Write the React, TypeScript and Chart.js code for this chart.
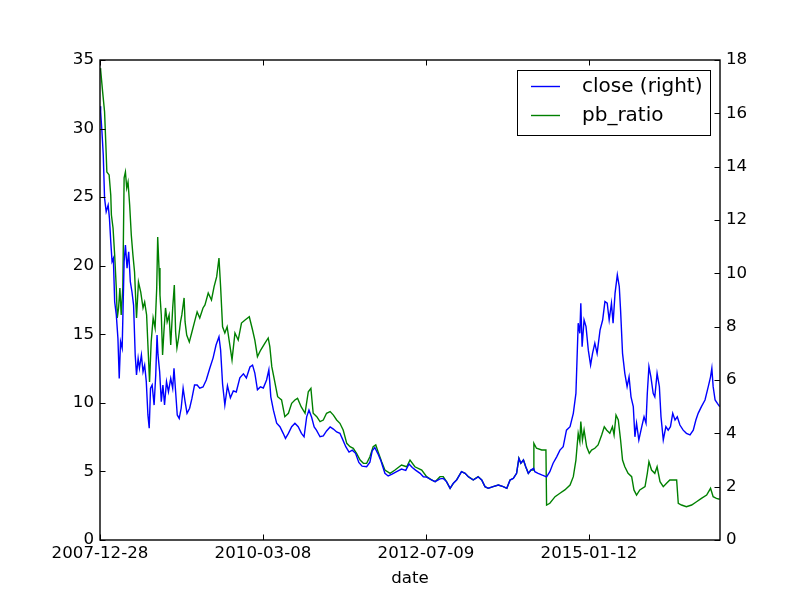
import { useEffect, useRef } from 'react';
import { Chart, registerables } from 'chart.js';

Chart.register(...registerables);

const FONT = 'DejaVu Sans';

// x positions are trading-day indices from 2007-12-28
const tickDays = [0, 500, 1000, 1500];
const tickLabels = ['2007-12-28', '2010-03-08', '2012-07-09', '2015-01-12'];
const lastDay = 1902;

const leftTicks = [0, 5, 10, 15, 20, 25, 30, 35];
const rightTicks = [0, 2, 4, 6, 8, 10, 12, 14, 16, 18];

const pbDays = [
  0, 2, 8, 14, 18, 21, 28, 33, 35, 40,
  45, 50, 53, 57, 61, 65, 70, 74, 78, 82,
  86, 91, 96, 101, 106, 112, 118, 125, 132, 137,
  143, 147, 152, 157, 163, 169, 174, 177, 181, 184,
  188, 192, 196, 201, 206, 212, 217, 223, 228, 232,
  236, 241, 247, 251, 258, 261, 266, 274, 282, 290,
  298, 306, 316, 322, 332, 342, 350, 358, 365, 370,
  376, 383, 390, 399, 405, 414, 424, 434, 445, 458,
  468, 475, 483, 493, 506, 516, 521, 527, 535, 545,
  557, 567, 578, 588, 598, 606, 617, 629, 639, 647,
  654, 665, 675, 685, 695, 706, 716, 726, 736, 746,
  757, 767, 777, 787, 798, 808, 818, 828, 838, 846,
  853, 864, 874, 890, 905, 925, 941, 951, 966, 987,
  1002, 1017, 1028, 1043, 1053, 1063, 1074, 1084, 1094, 1109,
  1120, 1130, 1145, 1160, 1171, 1181, 1191, 1206, 1222, 1237,
  1248, 1258, 1268, 1278, 1285, 1291, 1299, 1306, 1314, 1322,
  1329, 1331, 1339, 1355, 1368, 1370, 1380, 1396, 1411, 1426,
  1442, 1452, 1460, 1467, 1472, 1475, 1480, 1485, 1493, 1501,
  1508, 1518, 1528, 1539, 1547, 1554, 1564, 1572, 1577, 1583,
  1590, 1597, 1603, 1610, 1620, 1631, 1638, 1646, 1656, 1672,
  1679, 1684, 1692, 1702, 1709, 1718, 1728, 1738, 1748, 1758,
  1769, 1774, 1784, 1799, 1815, 1830, 1845, 1861, 1873, 1881,
  1891, 1901,
];

const pbRatio = [
  34.4, 34.27, 32.69, 31.23, 28.8, 26.83, 26.62, 25.16, 23.7, 22.75,
  20.78, 18.38, 16.19, 16.92, 18.38, 16.41, 18.38, 26.4, 26.83, 25.67,
  26.1, 24.43, 22.24, 20.78, 19.54, 16.19, 18.81, 18.08, 16.92, 17.35,
  16.41, 14.22, 11.52, 14.44, 16.19, 15.46, 18.38, 22.09, 19.83, 17.86,
  16.41, 13.49, 15.17, 16.92, 15.9, 16.41, 14.22, 16.92, 18.59, 15.17,
  14.0, 14.73, 15.9, 16.41, 17.65, 15.9, 14.95, 14.44, 15.17, 15.9,
  16.63, 16.19, 16.92, 17.14, 18.01, 17.5, 18.47, 19.2, 20.56, 18.47,
  15.55, 15.09, 15.55, 14.1, 13.13, 15.09, 14.58, 15.82, 16.04, 16.28,
  15.31, 14.58, 13.37, 13.85, 14.36, 14.73, 14.1, 12.64, 11.67, 10.45,
  10.21, 8.99, 9.24, 9.97, 10.21, 10.33, 9.72, 9.24, 10.81, 11.06,
  9.24, 8.99, 8.63, 8.75, 9.24, 9.36, 9.11, 8.75, 8.51, 8.02,
  7.05, 6.8, 6.69, 6.32, 5.83, 5.59, 5.59, 6.07, 6.8, 6.93,
  6.44, 5.71, 5.1, 4.86, 5.1, 5.47, 5.34, 5.83, 5.34, 5.1,
  4.62, 4.38, 4.25, 4.62, 4.62, 4.25, 3.77, 4.13, 4.38, 4.98,
  4.86, 4.62, 4.38, 4.62, 4.38, 3.89, 3.77, 3.89, 4.01, 3.89,
  3.77, 4.38, 4.5, 4.86, 5.96, 5.59, 5.83, 5.34, 4.86, 5.1,
  5.1, 7.05, 6.69, 6.56, 6.56, 2.55, 2.68, 3.16, 3.41, 3.65,
  4.01, 4.62, 5.83, 7.78, 7.17, 8.63, 7.29, 8.02, 6.8, 6.32,
  6.56, 6.69, 6.93, 7.66, 8.26, 8.02, 7.78, 8.26, 7.66, 9.11,
  8.75, 7.29, 5.83, 5.34, 4.86, 4.62, 3.65, 3.28, 3.65, 3.89,
  4.86, 5.71, 5.1, 4.86, 5.34, 4.25, 3.89, 4.13, 4.38, 4.38,
  4.38, 2.68, 2.55, 2.43, 2.55, 2.79, 3.04, 3.28, 3.77, 3.16,
  3.04, 2.97,
];

const closeDays = [
  0, 2, 6, 10, 14, 19, 25, 29, 33, 37,
  41, 45, 50, 55, 59, 63, 68, 74, 78, 83,
  88, 93, 98, 103, 108, 112, 117, 121, 127, 132,
  137, 142, 147, 151, 155, 160, 166, 171, 175, 178,
  183, 188, 193, 198, 204, 210, 217, 223, 227, 232,
  237, 243, 249, 255, 261, 267, 275, 282, 290, 298,
  306, 316, 326, 337, 347, 356, 365, 370, 376, 383,
  391, 400, 409, 418, 429, 440, 449, 460, 468, 475,
  483, 492, 501, 511, 518, 524, 532, 542, 552, 562,
  569, 578, 588, 598, 608, 618, 626, 634, 641, 649,
  657, 664, 675, 685, 695, 706, 716, 726, 736, 743,
  754, 764, 774, 784, 794, 804, 818, 828, 835, 843,
  852, 862, 874, 884, 896, 910, 925, 938, 948, 958,
  968, 982, 992, 1002, 1017, 1028, 1043, 1053, 1063, 1074,
  1084, 1094, 1109, 1120, 1130, 1145, 1160, 1171, 1181, 1191,
  1206, 1222, 1237, 1248, 1258, 1268, 1278, 1285, 1291, 1299,
  1306, 1314, 1322, 1330, 1334, 1344, 1355, 1370, 1380, 1390,
  1401, 1411, 1421, 1431, 1442, 1452, 1460, 1467, 1472, 1475,
  1479, 1485, 1491, 1498, 1505, 1511, 1518, 1525, 1534, 1542,
  1549, 1556, 1562, 1569, 1574, 1580, 1587, 1593, 1597, 1603,
  1610, 1617, 1623, 1629, 1636, 1641, 1646, 1653, 1662, 1669,
  1675, 1679, 1684, 1690, 1697, 1702, 1709, 1716, 1721, 1728,
  1736, 1743, 1750, 1757, 1764, 1771, 1779, 1789, 1799, 1810,
  1820, 1828, 1835, 1845, 1856, 1866, 1873, 1877, 1881, 1887,
  1894, 1901,
];

const closeValues = [
  16.27, 16.05, 15.31, 14.44, 12.82, 12.31, 12.56, 12.06, 11.19, 10.44,
  10.56, 8.94, 8.44, 7.56, 6.06, 7.44, 7.19, 10.44, 11.06, 10.19,
  10.81, 9.69, 9.31, 8.81, 6.94, 6.19, 6.81, 6.44, 6.94, 6.31,
  6.56, 5.94, 4.69, 4.19, 5.69, 5.81, 5.06, 6.19, 7.69, 6.94,
  6.31, 5.19, 5.81, 5.06, 5.94, 5.56, 6.06, 5.69, 6.44, 5.56,
  4.69, 4.56, 4.94, 5.69, 5.19, 4.75, 4.94, 5.31, 5.81, 5.81,
  5.69, 5.74, 6.0, 6.45, 6.83, 7.31, 7.62, 7.13, 5.85, 5.06,
  5.78, 5.33, 5.59, 5.55, 6.08, 6.23, 6.08, 6.49, 6.56, 6.26,
  5.63, 5.74, 5.7, 6.0, 6.38, 5.37, 4.87, 4.38, 4.25, 4.0,
  3.81, 4.0, 4.25, 4.38, 4.25, 4.0, 3.87, 4.62, 4.87, 4.61,
  4.24, 4.12, 3.87, 3.9, 4.09, 4.24, 4.16, 4.05, 4.0, 3.81,
  3.5, 3.3, 3.37, 3.25, 2.91, 2.77, 2.75, 2.92, 3.34, 3.47,
  3.25, 2.96, 2.5, 2.4, 2.47, 2.56, 2.66, 2.61, 2.85, 2.72,
  2.62, 2.5, 2.37, 2.36, 2.25, 2.19, 2.29, 2.31, 2.19, 1.94,
  2.13, 2.25, 2.56, 2.5, 2.37, 2.25, 2.37, 2.25, 2.0, 1.94,
  2.0, 2.06, 2.0, 1.94, 2.25, 2.31, 2.5, 3.06, 2.88, 3.0,
  2.75, 2.5, 2.62, 2.69, 2.56, 2.5, 2.44, 2.37, 2.56, 2.88,
  3.12, 3.37, 3.5, 4.12, 4.25, 4.75, 5.5, 8.13, 7.75, 8.88,
  7.25, 8.25, 8.0, 7.12, 6.56, 7.0, 7.38, 7.0, 7.87, 8.25,
  8.94, 8.88, 8.25, 8.88, 8.13, 9.25, 9.94, 9.5, 8.62, 7.0,
  6.25, 5.75, 6.12, 5.37, 5.0, 3.87, 4.38, 3.75, 4.25, 4.62,
  4.38, 5.5, 6.5, 6.12, 5.5, 5.37, 6.25, 5.75, 4.62, 3.75,
  4.25, 4.12, 4.25, 4.75, 4.5, 4.62, 4.31, 4.12, 4.0, 3.94,
  4.12, 4.5, 4.75, 5.0, 5.25, 5.75, 6.12, 6.44, 5.75, 5.25,
  5.12, 5.0,
];

const CLOSE_COLOR = '#0000ff';
const PB_COLOR = '#008000';

function toPoints(days: number[], vals: number[]) {
  const n = Math.min(days.length, vals.length);
  const out: { x: number; y: number }[] = [];
  for (let i = 0; i < n; i++) out.push({ x: days[i], y: vals[i] });
  return out;
}

const framePlugin = {
  id: 'mplFrame',
  afterDraw(chart: any) {
    const ctx: CanvasRenderingContext2D = chart.ctx;
    const { left, right, top, bottom } = chart.chartArea;
    const xs = chart.scales.x;
    const yl = chart.scales.yLeft;
    const yr = chart.scales.yRight;
    const TL = 5.5;
    ctx.save();
    ctx.strokeStyle = '#000';
    // ticks
    ctx.lineWidth = 1;
    ctx.beginPath();
    for (const v of tickDays) {
      const px = Math.round(xs.getPixelForValue(v)) + 0.5;
      ctx.moveTo(px, bottom);
      ctx.lineTo(px, bottom - TL);
      ctx.moveTo(px, top);
      ctx.lineTo(px, top + TL);
    }
    for (const v of leftTicks) {
      const py = Math.round(yl.getPixelForValue(v)) + 0.5;
      ctx.moveTo(left, py);
      ctx.lineTo(left + TL, py);
    }
    for (const v of rightTicks) {
      const py = Math.round(yr.getPixelForValue(v)) + 0.5;
      ctx.moveTo(right, py);
      ctx.lineTo(right - TL, py);
    }
    ctx.stroke();
    // frame
    ctx.lineWidth = 1.4;
    ctx.strokeRect(left, top, right - left, bottom - top);

    // legend
    const bx = 517, by = 70, bw = 193, bh = 65;
    ctx.fillStyle = '#fff';
    ctx.fillRect(bx, by, bw, bh);
    ctx.lineWidth = 1;
    ctx.strokeStyle = '#000';
    ctx.strokeRect(bx + 0.5, by + 0.5, bw, bh);
    const rows = [
      { label: 'close (right)', color: CLOSE_COLOR, y: 86 },
      { label: 'pb_ratio', color: PB_COLOR, y: 115 },
    ];
    ctx.font = `20px "${FONT}"`;
    ctx.textBaseline = 'middle';
    ctx.textAlign = 'left';
    for (const r of rows) {
      ctx.strokeStyle = r.color;
      ctx.lineWidth = 1.4;
      ctx.beginPath();
      ctx.moveTo(531, r.y + 0.5);
      ctx.lineTo(560, r.y + 0.5);
      ctx.stroke();
      ctx.fillStyle = '#000';
      ctx.fillText(r.label, 582, r.y + 1);
    }
    ctx.restore();
  },
};

export default function App() {
  const ref = useRef<HTMLCanvasElement>(null);

  useEffect(() => {
    if (!ref.current) return;
    const tickFont = { family: FONT, size: 16.67 };
    const chart = new Chart(ref.current, {
      type: 'line',
      data: {
        datasets: [
          {
            label: 'close (right)',
            data: toPoints(closeDays, closeValues),
            yAxisID: 'yRight',
            borderColor: CLOSE_COLOR,
            borderWidth: 1.4,
            pointRadius: 0,
            tension: 0,
            fill: false,
          },
          {
            label: 'pb_ratio',
            data: toPoints(pbDays, pbRatio),
            yAxisID: 'yLeft',
            borderColor: PB_COLOR,
            borderWidth: 1.4,
            pointRadius: 0,
            tension: 0,
            fill: false,
          },
        ],
      },
      options: {
        responsive: false,
        animation: false,
        devicePixelRatio: 1,
        events: [],
        layout: { padding: { top: 60, left: 0, right: 0, bottom: 0 } },
        plugins: {
          legend: { display: false },
          tooltip: { enabled: false },
        },
        scales: {
          x: {
            type: 'linear',
            min: 0,
            max: lastDay,
            afterBuildTicks: (s: any) => {
              s.ticks = tickDays.map((v) => ({ value: v }));
            },
            afterFit: (s: any) => {
              s.height = 60;
            },
            ticks: {
              autoSkip: false,
              maxRotation: 0,
              padding: 4,
              color: '#000',
              font: tickFont,
              callback: (v: any) => {
                const i = tickDays.indexOf(Number(v));
                return i >= 0 ? tickLabels[i] : '';
              },
            },
            grid: { display: false, drawTicks: false },
            border: { display: false },
            title: {
              display: true,
              text: 'date',
              color: '#000',
              font: tickFont,
              padding: { top: 0, bottom: 11 },
            },
          },
          yLeft: {
            type: 'linear',
            position: 'left',
            min: 0,
            max: 35,
            afterBuildTicks: (s: any) => {
              s.ticks = leftTicks.map((v) => ({ value: v }));
            },
            afterFit: (s: any) => {
              s.width = 100;
            },
            ticks: { padding: 6, color: '#000', font: tickFont },
            grid: { display: false, drawTicks: false },
            border: { display: false },
          },
          yRight: {
            type: 'linear',
            position: 'right',
            min: 0,
            max: 18,
            afterBuildTicks: (s: any) => {
              s.ticks = rightTicks.map((v) => ({ value: v }));
            },
            afterFit: (s: any) => {
              s.width = 80;
            },
            ticks: { padding: 6, color: '#000', font: tickFont },
            grid: { display: false, drawTicks: false },
            border: { display: false },
          },
        },
      },
      plugins: [framePlugin],
    });
    return () => chart.destroy();
  }, []);

  return (
    <div style={{ position: 'absolute', left: 0, top: 0, width: 800, height: 600, background: '#fff' }}>
      <canvas ref={ref} width={800} height={600} style={{ width: 800, height: 600, display: 'block' }} />
    </div>
  );
}
